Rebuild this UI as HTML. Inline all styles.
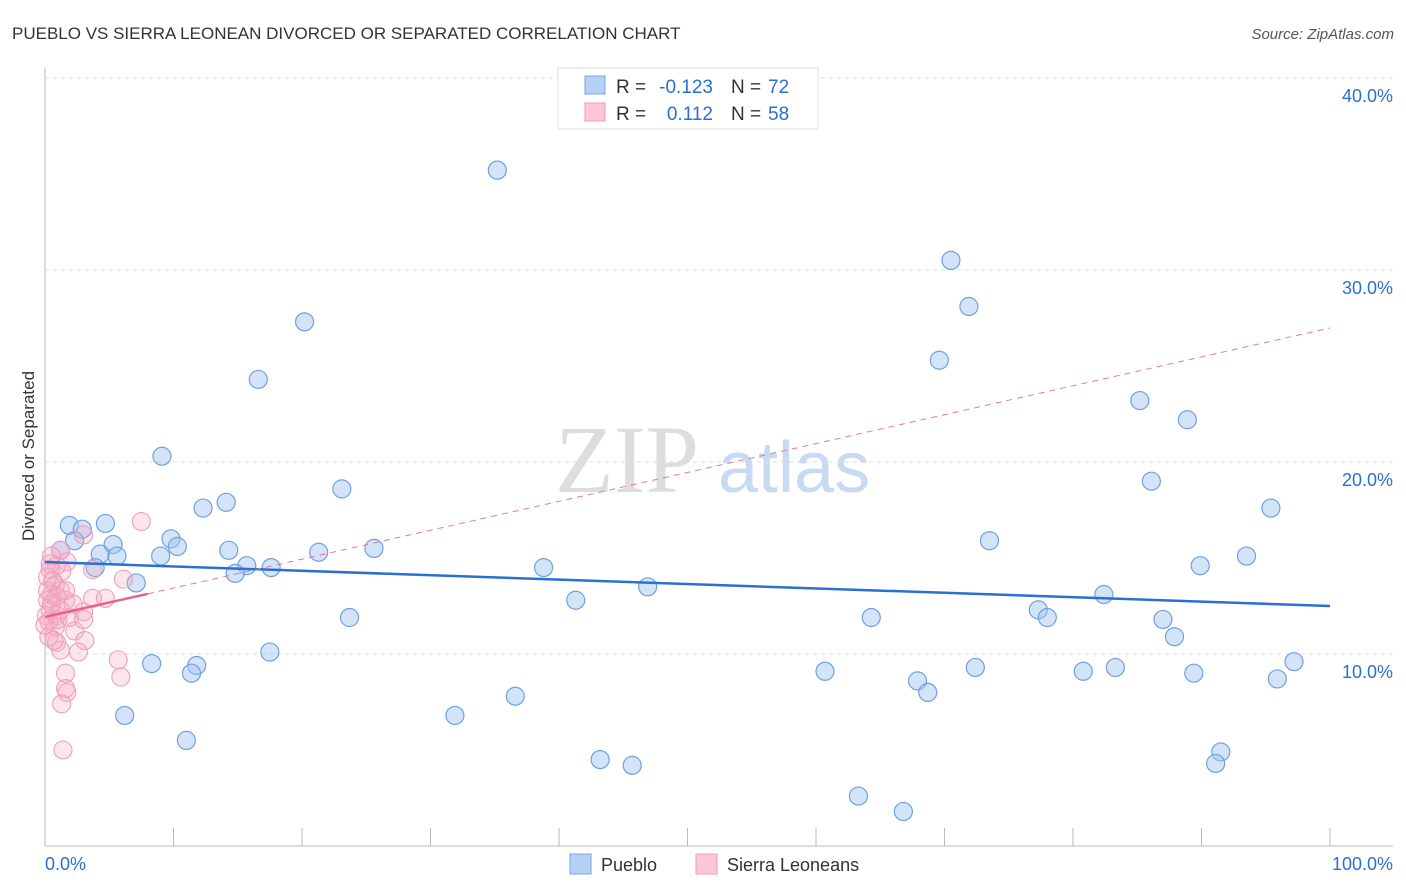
<!DOCTYPE html>
<html><head><meta charset="utf-8"><style>
body{margin:0;background:#fff;font-family:"Liberation Sans",sans-serif}
svg{display:block}
</style></head><body>
<svg width="1406" height="892" id="c">
<text x="12" y="39" font-size="17" fill="#333">PUEBLO VS SIERRA LEONEAN DIVORCED OR SEPARATED CORRELATION CHART</text>
<text x="1394" y="39" font-size="15" fill="#555" font-style="italic" text-anchor="end">Source: ZipAtlas.com</text>
<text x="555" y="492" font-size="96" fill="#ddd" font-family="Liberation Serif">ZIP</text>
<text x="718" y="492" font-size="72" fill="#c8daf2">atlas</text>
<text x="34" y="456" font-size="17" fill="#333" text-anchor="middle" transform="rotate(-90 34 456)">Divorced or Separated</text>
<g id="grid"></g><g id="pts"></g><g id="lines"></g>
<g>
<rect x="558" y="68" width="260" height="61" fill="#fff" stroke="#ddd"/>
<rect x="585" y="76" width="20" height="18" fill="#b7d0f5" stroke="#7aa6e6"/>
<rect x="585" y="103" width="20" height="18" fill="#fcc8d8" stroke="#f09ab6"/>
<text x="616" y="93" font-size="19" fill="#333">R =</text>
<text x="713" y="93" font-size="19" fill="#2a6fd6" text-anchor="end">-0.123</text>
<text x="731" y="93" font-size="19" fill="#333">N =</text>
<text x="768" y="93" font-size="19" fill="#2a6fd6">72</text>
<text x="616" y="120" font-size="19" fill="#333">R =</text>
<text x="713" y="120" font-size="19" fill="#2a6fd6" text-anchor="end">0.112</text>
<text x="731" y="120" font-size="19" fill="#333">N =</text>
<text x="768" y="120" font-size="19" fill="#2a6fd6">58</text>
</g>
<g>
<rect x="570" y="854" width="21" height="20" fill="#b7d0f5" stroke="#7aa6e6"/>
<text x="601" y="871" font-size="18" fill="#333">Pueblo</text>
<rect x="696" y="854" width="21" height="20" fill="#fcc8d8" stroke="#f09ab6"/>
<text x="727" y="871" font-size="18" fill="#333">Sierra Leoneans</text>
</g>
<text x="45" y="870" font-size="18" fill="#2a6fd6">0.0%</text>
<text x="1393" y="870" font-size="18" fill="#2a6fd6" text-anchor="end">100.0%</text>
</svg>
<script>
const blueX=[35.2,70.5,71.9,20.2,69.6,16.6,85.2,88.9,9.1,23.1,86.1,14.1,12.3,95.4,1.9,4.7,2.9,2.3,5.3,9.8,10.3,73.5,1.2,4.3,5.6,9.0,14.3,21.3,25.6,93.5,3.9,15.7,17.6,14.8,38.8,89.9,7.1,46.9,41.3,82.4,77.3,23.7,64.3,78.0,87.0,87.9,17.5,8.3,11.8,11.4,60.7,72.4,80.8,83.3,89.4,97.2,95.9,67.9,68.7,36.6,6.2,31.9,11.0,43.2,45.7,91.5,91.1,63.3,66.8];
const blueY=[35.2,30.5,28.1,27.3,25.3,24.3,23.2,22.2,20.3,18.6,19.0,17.9,17.6,17.6,16.7,16.8,16.5,15.9,15.7,16.0,15.6,15.9,15.4,15.2,15.1,15.1,15.4,15.3,15.5,15.1,14.5,14.6,14.5,14.2,14.5,14.6,13.7,13.5,12.8,13.1,12.3,11.9,11.9,11.9,11.8,10.9,10.1,9.5,9.4,9.0,9.1,9.3,9.1,9.3,9.0,9.6,8.7,8.6,8.0,7.8,6.8,6.8,5.5,4.5,4.2,4.9,4.3,2.6,1.8];
const pinkX=[7.5,3.0,1.2,0.5,1.7,0.9,1.3,0.2,3.7,6.1,0.8,1.2,0.5,1.6,0.2,3.7,4.7,2.2,3.0,0.4,0.9,1.9,3.0,0.3,0.8,2.3,0.3,3.1,0.9,1.2,2.6,5.7,1.6,5.9,1.6,1.7,1.3,1.4,0.4,0.2,0.5,0.1,1.0,0.7,0.6,0.9,0.0,1.2,1.6,0.4];
const pinkY=[16.9,16.2,15.4,15.1,14.8,14.6,14.3,14.0,14.4,13.9,13.6,13.3,13.1,12.8,12.8,12.9,12.9,12.6,12.2,12.3,12.0,11.9,11.8,11.7,11.4,11.2,10.9,10.7,10.6,10.2,10.1,9.7,9.0,8.8,8.2,8.0,7.4,5.0,14.4,13.3,12.6,12.0,11.8,10.7,13.8,13.0,11.5,12.3,13.3,14.7];
const yTicks=[10,20,30,40];
const yTickLabels=["10.0%","20.0%","30.0%","40.0%"];
const xTicks=[10,20,30,40,50,60,70,80,90,100];
const blueTrend=[14.79,12.5];
const pinkTrend=[11.93,26.98];
const pinkSolidEnd=8;
const sx=v=>45+v*12.85, sy=v=>846-v*19.2;
const NS="http://www.w3.org/2000/svg";
function mk(t,a,p){const e=document.createElementNS(NS,t);for(const k in a)e.setAttribute(k,a[k]);p.appendChild(e);return e;}
const g=document.getElementById('grid'),P=document.getElementById('pts'),L=document.getElementById('lines');
let ax=mk('line',{x1:45,y1:68,x2:45,y2:846,stroke:'#bbb'},g);


let bx=mk('line',{x1:45,y1:846,x2:1393,y2:846,stroke:'#bbb'},g);


yTicks.forEach((t,i)=>{
 const l=mk('line',{x1:45,y1:sy(t),x2:1393,y2:sy(t),stroke:'#ddd','stroke-dasharray':'4 4'},g);
 
 
 const tx=mk('text',{x:1393,y:sy(t)+24,'font-size':18,fill:'#2a6fd6','text-anchor':'end'},g);
 tx.textContent=yTickLabels[i];
 
 
});
xTicks.forEach(t=>{
 const l=mk('line',{x1:sx(t),y1:828,x2:sx(t),y2:846,stroke:'#bbb'},g);
 
 
});
blueX.forEach((x,i)=>{
 const c=mk('circle',{cx:sx(x),cy:sy(blueY[i]),r:9,fill:'rgba(160,195,240,0.45)',stroke:'#6fa0e0','stroke-width':1.2},P);
 
 
});
pinkX.forEach((x,i)=>{
 const c=mk('circle',{cx:sx(x),cy:sy(pinkY[i]),r:9,fill:'rgba(245,170,195,0.3)',stroke:'#ef9fbb','stroke-width':1.1},P);
 
 
});
const pAt=x=>pinkTrend[0]+(pinkTrend[1]-pinkTrend[0])*x/100;
let t1=mk('line',{x1:sx(0),y1:sy(blueTrend[0]),x2:sx(100),y2:sy(blueTrend[1]),stroke:'#2a6fd6','stroke-width':2.5},L);


let t2=mk('line',{x1:sx(pinkSolidEnd),y1:sy(pAt(pinkSolidEnd)),x2:sx(100),y2:sy(pinkTrend[1]),stroke:'#e8799c','stroke-width':1,'stroke-dasharray':'6 5'},L);


let t3=mk('line',{x1:sx(0),y1:sy(pinkTrend[0]),x2:sx(pinkSolidEnd),y2:sy(pAt(pinkSolidEnd)),stroke:'#e8608c','stroke-width':2.5},L);


</script>
</body></html>
